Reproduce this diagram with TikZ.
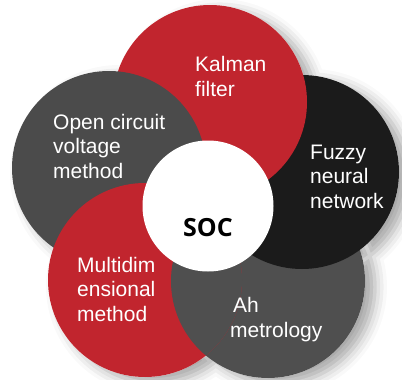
\documentclass[tikz,border=0pt]{standalone}
\usepackage{fontspec}
\setmainfont{Liberation Sans}
\newfontfamily\socfont{Open Sans}
\usetikzlibrary{calc,shadows.blur}

\definecolor{socred}{RGB}{193,37,46}
\definecolor{socgray}{RGB}{75,75,75}
\definecolor{ahgray}{RGB}{79,79,79}
\definecolor{socdark}{RGB}{27,27,27}

\tikzset{
  petal/.style={circle, minimum size=194pt, inner sep=0pt},
  petaltext/.style={text=white, align=left, anchor=base west, inner sep=0pt,
    font=\fontsize{21}{24.5}\selectfont},
}

\begin{document}
\begin{tikzpicture}[x=1pt,y=-1pt]
\useasboundingbox (0,0) rectangle (402,380);
\coordinate (kc) at (210,102);
\coordinate (fc) at (302,172);
\coordinate (ac) at (268,281);
\coordinate (mc) at (145,280);
\coordinate (oc) at (109,168);
\coordinate (sc) at (208,206);

\fill[white, blur shadow={shadow xshift=10pt, shadow yshift=-6pt, shadow blur radius=12pt, shadow opacity=35}]
  (kc) circle[radius=97pt] (fc) circle[radius=97pt] (ac) circle[radius=97pt]
  (mc) circle[radius=97pt] (oc) circle[radius=97pt];

\node[petal, fill=ahgray] (ah) at (ac) {};
\node[petal, fill=socdark] (fuzzy) at (fc) {};
\node[petal, fill=socred] (kalman) at (kc) {};
\node[petal, fill=socgray] (open) at (oc) {};
\node[petal, fill=socred] (multi) at (mc) {};
\begin{scope}
  \clip (mc) circle[radius=97pt];
  \fill[ahgray] (ac) circle[radius=97pt];
\end{scope}
\node[circle, fill=white, minimum size=131pt, inner sep=0pt] (soc) at (sc) {};

\node[petaltext] (kalmantext) at (195,96) {Kalman\\filter};
\node[petaltext] (opentext) at (53,178) {Open circuit\\voltage\\method};
\node[petaltext] (fuzzytext) at (310,208) {Fuzzy\\neural\\network};
\node[petaltext] (multitext) at (77,321) {Multidim\\ensional\\method};
\node[petaltext] (ahtext) at (230,337) {\hspace{3pt}Ah\\metrology};
\node[font=\socfont\bfseries\fontsize{25}{30}\selectfont, anchor=base, inner sep=0pt] (soctext) at (208,236) {SOC};
\end{tikzpicture}
\end{document}
